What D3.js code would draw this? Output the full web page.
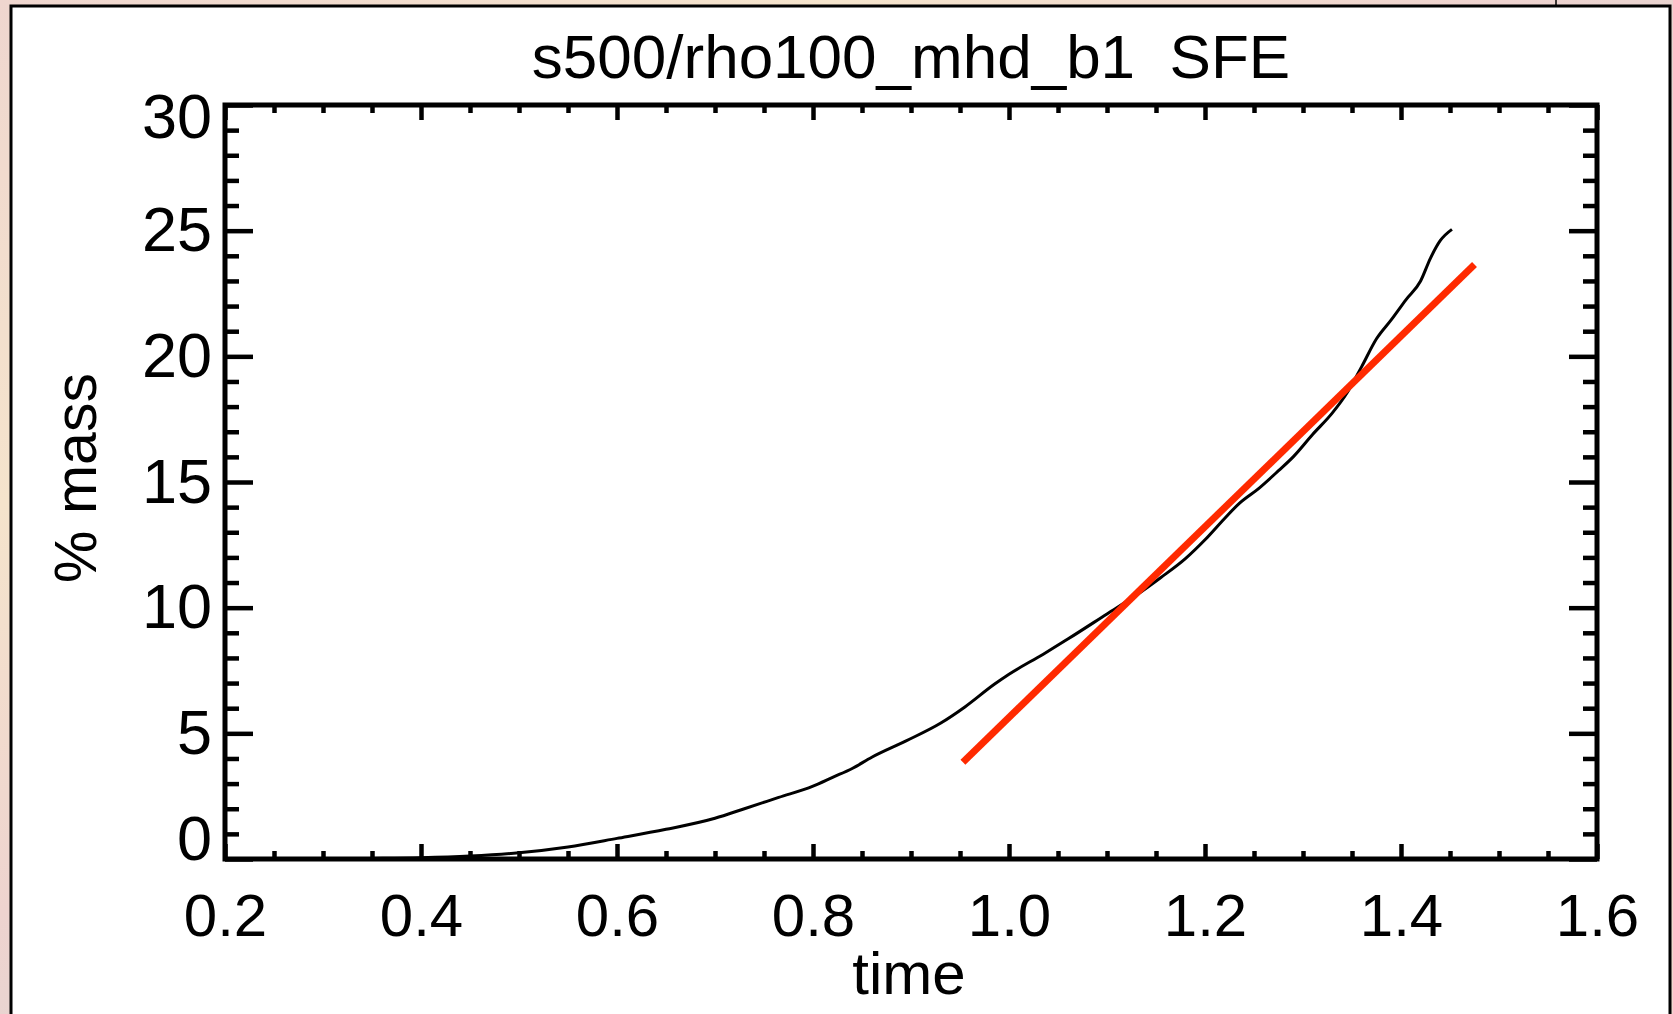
<!DOCTYPE html>
<html>
  <head>
    <title>s500/rho100_mhd_b1 SFE</title>
    <style type="text/css">
        body { margin: 0; }
        svg { display: block; }
        text { font-family: "Liberation Sans", Arial, sans-serif; fill: #000; }
    </style>
  </head>
  <body>
    <svg width="1673" height="1014"></svg>
    <script src="https://d3js.org/d3.v7.min.js"></script>
    <script>

    // Curve (time, % mass)
    var timeVals = [0.30, 0.35, 0.40, 0.45, 0.50, 0.55, 0.60, 0.65, 0.70, 0.73, 0.765, 0.80, 0.82, 0.84,
                    0.86, 0.895, 0.93, 0.955, 0.985, 1.0, 1.035, 1.06, 1.10, 1.13, 1.155, 1.18, 1.20,
                    1.22, 1.235, 1.255, 1.275, 1.29, 1.31, 1.33, 1.345, 1.36, 1.375, 1.39, 1.405,
                    1.42, 1.43, 1.44, 1.452];
    var massVals = [0.0, 0.02, 0.05, 0.12, 0.25, 0.48, 0.82, 1.18, 1.62, 2.0, 2.45, 2.9, 3.25, 3.6,
                    4.05, 4.7, 5.4, 6.05, 6.95, 7.35, 8.15, 8.75, 9.75, 10.5, 11.2, 11.95, 12.7,
                    13.55, 14.15, 14.75, 15.45, 16.0, 16.9, 17.75, 18.55, 19.6, 20.7, 21.45, 22.25,
                    23.0, 23.9, 24.6, 25.05];

    // Red linear fit
    var fitTime = [0.953, 1.475];
    var fitMass = [3.85, 23.65];

    var xTicks = [0.2, 0.4, 0.6, 0.8, 1.0, 1.2, 1.4, 1.6];
    var yTicks = [0, 5, 10, 15, 20, 25, 30];
    var titleText = "s500/rho100_mhd_b1  SFE";

    var svg = d3.select("svg");

    // background behind the white panel
    var defs = svg.append("defs");
    var grad = defs.append("linearGradient")
        .attr("id", "bg")
        .attr("x1", "0").attr("y1", "0").attr("x2", "1").attr("y2", "1");
    [["0", "#efd6cf"], ["0.25", "#f5e4cc"], ["0.45", "#eed3cf"], ["0.65", "#dcd8d4"], ["0.85", "#f4e3cc"], ["1", "#f0d6cf"]]
        .forEach(function(s) { grad.append("stop").attr("offset", s[0]).attr("stop-color", s[1]); });

    svg.append("rect").attr("width", 1673).attr("height", 1014).attr("fill", "url(#bg)");
    svg.append("rect")
        .attr("x", 11).attr("y", 6)
        .attr("width", 1659).attr("height", 1020)
        .attr("fill", "#fff")
        .attr("stroke", "#000")
        .attr("stroke-width", 3);
    svg.append("line")
        .attr("x1", 1556).attr("x2", 1556).attr("y1", 0).attr("y2", 5)
        .attr("stroke", "#000").attr("stroke-width", 1.5);

    var x = d3.scaleLinear().domain([0.2, 1.6]).range([225, 1597]);
    var y = d3.scaleLinear().domain([0, 30]).range([859, 105]);

    var minorX = d3.range(0.2, 1.6001, 0.05).filter(function(v) { return Math.abs(v * 5 - Math.round(v * 5)) > 1e-6; });
    var minorY = d3.range(0, 30.001, 1).filter(function(v) { return v % 5 != 0; });

    function tickStyle(g) {
        g.select(".domain").remove();
        g.selectAll(".tick line").attr("stroke", "#000").attr("stroke-width", 4.5);
    }

    // bottom axis, ticks pointing in
    svg.append("g")
        .attr("transform", "translate(0," + y(0) + ")")
        .call(d3.axisBottom(x).tickValues(xTicks).tickSize(-15).tickPadding(34)
            .tickFormat(d3.format(".1f")))
        .call(tickStyle)
        .selectAll("text")
        .attr("font-size", 60)
        .attr("font-family", "Liberation Sans, Arial, sans-serif");
    svg.append("g")
        .attr("transform", "translate(0," + y(0) + ")")
        .call(d3.axisBottom(x).tickValues(minorX).tickSize(-8).tickFormat(""))
        .call(tickStyle);

    // top axis
    svg.append("g")
        .attr("transform", "translate(0," + y(30) + ")")
        .call(d3.axisTop(x).tickValues(xTicks).tickSize(-15).tickFormat(""))
        .call(tickStyle);
    svg.append("g")
        .attr("transform", "translate(0," + y(30) + ")")
        .call(d3.axisTop(x).tickValues(minorX).tickSize(-8).tickFormat(""))
        .call(tickStyle);

    // left axis
    var yAxisG = svg.append("g")
        .attr("transform", "translate(" + x(0.2) + ",0)")
        .call(d3.axisLeft(y).tickValues(yTicks).tickSize(-28).tickPadding(13))
        .call(tickStyle);
    yAxisG.selectAll("text")
        .attr("font-size", 63)
        .attr("font-family", "Liberation Sans, Arial, sans-serif")
        .attr("dy", function(d) { return d == 0 ? "0em" : (d == 30 ? "0.52em" : "0.32em"); });
    svg.append("g")
        .attr("transform", "translate(" + x(0.2) + ",0)")
        .call(d3.axisLeft(y).tickValues(minorY).tickSize(-14).tickFormat(""))
        .call(tickStyle);

    // right axis
    svg.append("g")
        .attr("transform", "translate(" + x(1.6) + ",0)")
        .call(d3.axisRight(y).tickValues(yTicks).tickSize(-28).tickFormat(""))
        .call(tickStyle);
    svg.append("g")
        .attr("transform", "translate(" + x(1.6) + ",0)")
        .call(d3.axisRight(y).tickValues(minorY).tickSize(-14).tickFormat(""))
        .call(tickStyle);

    // plot frame
    svg.append("rect")
        .attr("x", x(0.2)).attr("y", y(30))
        .attr("width", x(1.6) - x(0.2)).attr("height", y(0) - y(30))
        .attr("fill", "none")
        .attr("stroke", "#000")
        .attr("stroke-width", 5);

    // data curve
    var pts = timeVals.map(function(t, i) { return [t, massVals[i]]; });
    var line = d3.line()
        .x(function(d) { return x(d[0]); })
        .y(function(d) { return y(d[1]); })
        .curve(d3.curveMonotoneX);

    svg.append("path")
        .datum(pts)
        .attr("d", line)
        .attr("fill", "none")
        .attr("stroke", "#000")
        .attr("stroke-width", 3);

    svg.append("path")
        .datum(fitTime.map(function(t, i) { return [t, fitMass[i]]; }))
        .attr("d", d3.line().x(function(d) { return x(d[0]); }).y(function(d) { return y(d[1]); }))
        .attr("fill", "none")
        .attr("stroke", "#ff2a00")
        .attr("stroke-width", 7);

    // titles
    svg.append("text")
        .attr("x", 911).attr("y", 78)
        .attr("text-anchor", "middle")
        .attr("font-size", 62)
        .style("white-space", "pre")
        .text(titleText);

    svg.append("text")
        .attr("x", 909).attr("y", 994)
        .attr("text-anchor", "middle")
        .attr("font-size", 60)
        .text("time");

    svg.append("text")
        .attr("transform", "translate(96,478) rotate(-90)")
        .attr("text-anchor", "middle")
        .attr("font-size", 59)
        .text("% mass");

    </script>
  </body>
</html>
